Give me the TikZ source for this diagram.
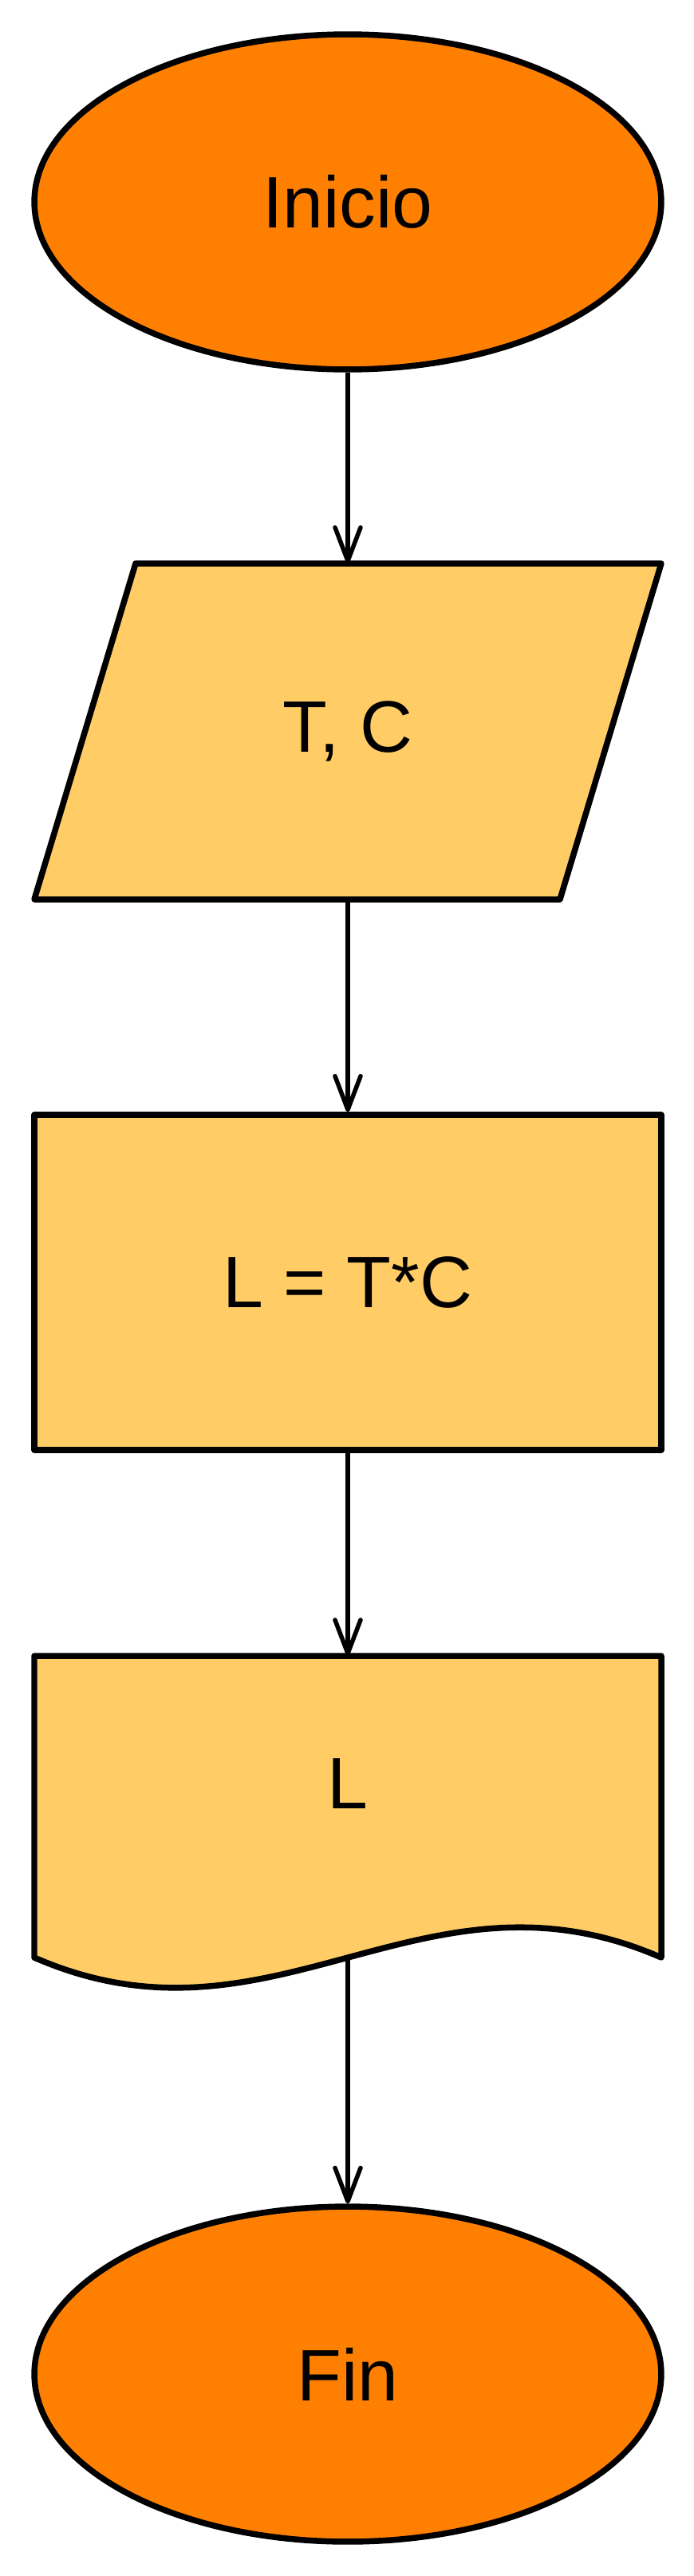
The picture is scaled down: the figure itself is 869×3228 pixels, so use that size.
\documentclass[tikz,border=0pt]{standalone}
\usepackage{fontspec}
\setmainfont{Liberation Sans}
\usetikzlibrary{arrows.meta,positioning,shapes.geometric}
\definecolor{naranja}{HTML}{FF8000}
\definecolor{amarillo}{HTML}{FFCC66}

\begin{document}
\begin{tikzpicture}[x=0.02cm, y=-0.02cm,
        terminal/.style={ellipse, draw, fill=naranja, line width=0.15cm, minimum width=15.72cm, minimum height=8.4cm, inner sep=0pt, font=\fontsize{52}{62}\selectfont},
        process/.style={rectangle, draw, fill=amarillo, line width=0.15cm, line join=round, minimum width=15.72cm, minimum height=8.4cm, inner sep=0pt, font=\fontsize{52}{62}\selectfont},
        textonly/.style={rectangle, minimum width=15.72cm, inner sep=0pt, font=\fontsize{52}{62}\selectfont},
        shapeline/.style={draw, fill=amarillo, line width=0.15cm, line join=round},
        arrow/.style={-{Straight Barb[length=0.84cm, width=0.64cm, round]}, line width=0.11cm},
    ]
        \useasboundingbox (0,0) rectangle (869,3228);

        % Start
        \node[terminal] (inicio) at (436,253) {Inicio};

        % Input: parallelogram outline, text node on top
        \draw[shapeline] (170,706) -- (829,706) -- (702,1127) -- (43,1127) -- cycle;
        \node[textonly, minimum height=8.42cm] (datos) at (436,916.5) {T, C};

        % Process
        \node[process] (calculo) at (436,1607) {L = T*C};

        % Output: document shape with wavy bottom
        \draw[shapeline] (43,2075) -- (829,2075) -- (829,2453)
            .. controls (529,2322) and (343,2584) .. (43,2453) -- cycle;
        \node[textonly, minimum height=6.4cm] (salida) at (436,2235) {L};
        \coordinate (ondaC) at (436,2453);

        % End
        \node[terminal] (fin) at (436,2975) {Fin};

        % Arrows
        \draw[arrow] (inicio) -- (datos);
        \draw[arrow] (datos) -- (calculo);
        \draw[arrow] (calculo) -- (salida);
        \draw[arrow] (ondaC) -- (fin);

    \end{tikzpicture}
\end{document}
